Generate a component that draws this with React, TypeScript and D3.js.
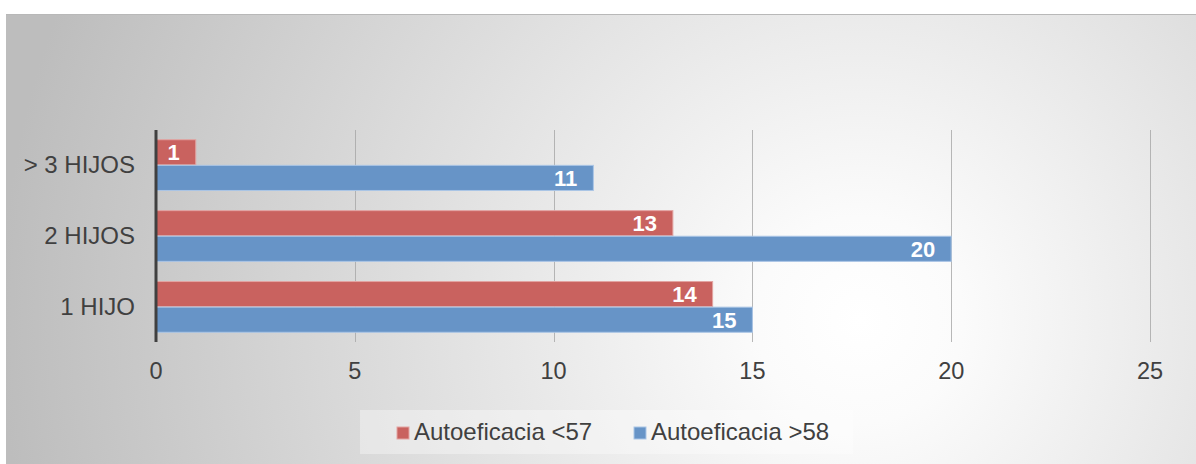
import React, { useEffect, useRef } from "react";
import * as d3 from "d3";

const categories = ["> 3 HIJOS", "2 HIJOS", "1 HIJO"];
const seriesNames = ["Autoeficacia <57", "Autoeficacia >58"];
const lowValues = [1, 13, 14];
const highValues = [11, 20, 15];
const xTicks = [0, 5, 10, 15, 20, 25];

const W = 1196;
const H = 464;
const FONT = "'Liberation Sans', Arial, sans-serif";

export default function App() {
  const ref = useRef<SVGSVGElement>(null);

  useEffect(() => {
    const svg = d3.select(ref.current);
    svg.selectAll("*").remove();

    const defs = svg.append("defs");
    const grad = defs
      .append("radialGradient")
      .attr("id", "bg")
      .attr("gradientUnits", "userSpaceOnUse")
      .attr("cx", 860)
      .attr("cy", 320)
      .attr("r", 860);
    grad.append("stop").attr("offset", "0").attr("stop-color", "#ffffff");
    grad.append("stop").attr("offset", "0.12").attr("stop-color", "#fbfbfb");
    grad.append("stop").attr("offset", "1").attr("stop-color", "#bdbdbd");

    svg.append("rect").attr("x", 0).attr("y", 0).attr("width", W).attr("height", H).attr("fill", "#ffffff");
    svg.append("rect").attr("x", 6).attr("y", 14).attr("width", W - 6).attr("height", H - 14).attr("fill", "url(#bg)");
    svg.append("line").attr("x1", 6).attr("x2", W).attr("y1", 14.5).attr("y2", 14.5).attr("stroke", "#b8b8b8");

    const top = 130;
    const bottom = 342;
    const x = d3.scaleLinear().domain([0, 25]).range([156, 1150]);
    const y = d3.scaleBand<string>().domain(categories).range([top, bottom]).paddingInner(0.27).paddingOuter(0.13);
    const sub = d3.scaleBand<number>().domain([0, 1]).range([0, y.bandwidth()]).padding(0.02);

    // gridlines
    svg
      .append("g")
      .selectAll("line")
      .data(xTicks.filter((t) => t > 0))
      .join("line")
      .attr("x1", (d) => Math.round(x(d)) + 0.5)
      .attr("x2", (d) => Math.round(x(d)) + 0.5)
      .attr("y1", top)
      .attr("y2", bottom)
      .attr("stroke", "#a6a6a6")
      .attr("stroke-opacity", 0.8);

    // tick labels
    svg
      .append("g")
      .selectAll("text")
      .data(xTicks)
      .join("text")
      .attr("x", (d) => x(d))
      .attr("y", 379)
      .attr("text-anchor", "middle")
      .attr("font-family", FONT)
      .attr("font-size", 23.5)
      .attr("fill", "#404040")
      .text((d) => d);

    const colors = ["#c9625f", "#6794c7"];
    const strokes = ["#e3a4a2", "#aac5e6"];
    const series = [lowValues, highValues];

    series.forEach((vals, si) => {
      const g = svg.append("g");
      const data = categories.map((c, i) => ({ c, v: vals[i] }));
      g.selectAll("rect")
        .data(data)
        .join("rect")
        .attr("x", x(0))
        .attr("y", (d) => (y(d.c) as number) + (sub(si) as number))
        .attr("width", (d) => x(d.v) - x(0))
        .attr("height", sub.bandwidth())
        .attr("fill", colors[si])
        .attr("stroke", strokes[si])
        .attr("stroke-width", 1);
      g.selectAll("text")
        .data(data)
        .join("text")
        .attr("x", (d) => x(d.v) - 16)
        .attr("y", (d) => (y(d.c) as number) + (sub(si) as number) + sub.bandwidth() / 2 + 8)
        .attr("text-anchor", "end")
        .attr("font-family", FONT)
        .attr("font-weight", "bold")
        .attr("font-size", 22)
        .attr("fill", "#ffffff")
        .text((d) => d.v);
    });

    // vertical axis line
    svg
      .append("line")
      .attr("x1", x(0))
      .attr("x2", x(0))
      .attr("y1", top)
      .attr("y2", bottom)
      .attr("stroke", "#404040")
      .attr("stroke-width", 3);

    // category labels
    svg
      .append("g")
      .selectAll("text")
      .data(categories)
      .join("text")
      .attr("x", 135)
      .attr("y", (d) => (y(d) as number) + y.bandwidth() / 2 + 8)
      .attr("text-anchor", "end")
      .attr("font-family", FONT)
      .attr("font-size", 24)
      .attr("fill", "#404040")
      .text((d) => d);

    // legend
    svg
      .append("rect")
      .attr("x", 360)
      .attr("y", 410)
      .attr("width", 493)
      .attr("height", 44)
      .attr("fill", "#ffffff")
      .attr("fill-opacity", 0.35);
    const legX = [397, 634];
    seriesNames.forEach((name, i) => {
      svg
        .append("rect")
        .attr("x", legX[i])
        .attr("y", 427)
        .attr("width", 12)
        .attr("height", 12)
        .attr("fill", colors[i])
        .attr("stroke", strokes[i]);
      svg
        .append("text")
        .attr("x", legX[i] + 17)
        .attr("y", 440)
        .attr("font-family", FONT)
        .attr("font-size", 24)
        .attr("fill", "#404040")
        .text(name);
    });
  }, []);

  return <svg ref={ref} width={W} height={H} style={{ display: "block", position: "absolute", left: 0, top: 0 }} />;
}
